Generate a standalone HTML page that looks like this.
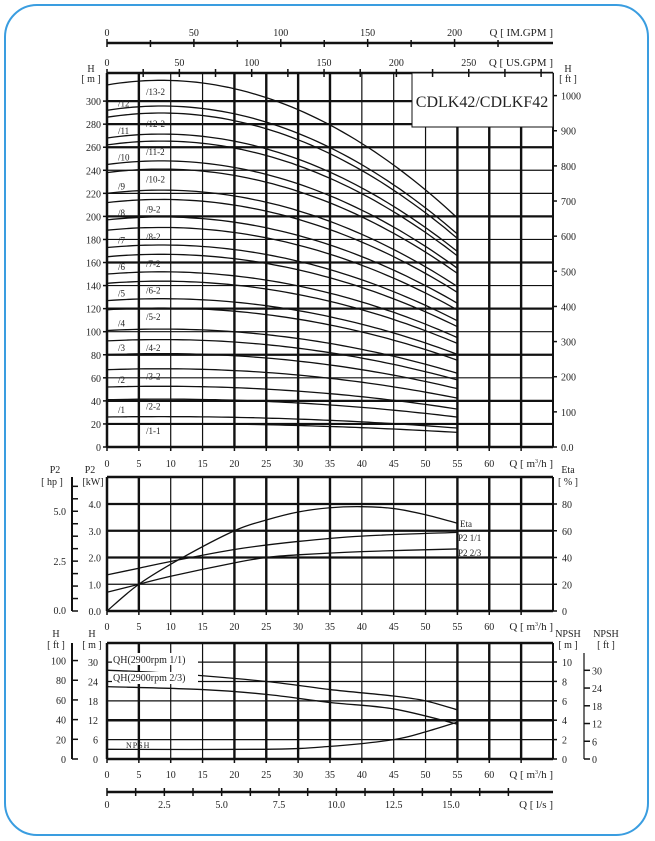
<!DOCTYPE html>
<html><head><meta charset="utf-8"><style>
html,body{margin:0;padding:0;background:#fff;}
svg{display:block;font-family:"Liberation Serif",serif;}
</style></head><body>
<svg id="s" width="655" height="841" xmlns="http://www.w3.org/2000/svg"></svg>
<script>
const s=document.getElementById('s');let h='';
const X=q=>107+q*6.371;
const L=(x1,y1,x2,y2,w)=>h+=`<line x1="${x1}" y1="${y1}" x2="${x2}" y2="${y2}" stroke="#111" stroke-width="${w}"/>`;
const T=(x,y,t,sz,a,extra)=>h+=`<text x="${x}" y="${y}" font-size="${sz||10}" text-anchor="${a||'middle'}" fill="#222" ${extra||''}>${t}</text>`;
const P=(pts,w)=>{let d='M'+pts.map(p=>p[0].toFixed(1)+','+p[1].toFixed(1)).join(' L');h+=`<path d="${d}" fill="none" stroke="#111" stroke-width="${w||1.3}"/>`;};
h+=`<rect x="5" y="5" width="643" height="830" rx="32" fill="#fff" stroke="#3a9de0" stroke-width="2"/>`;
const thick={5:1,20:1,25:1,30:1,35:1,55:1,60:1,65:1};
function vgrid(y1,y2){for(let q=5;q<=65;q+=5)L(X(q),y1,X(q),y2,thick[q]?2.4:1.2);L(553,y1,553,y2,2);}
// ===== TOP PANEL =====
const YH=m=>447-m*1.153;
vgrid(73,447);
for(let m=20;m<=300;m+=20){L(107,YH(m),553,YH(m),[300,280,260,200,160,120,80,40,20].includes(m)?2.2:1.2);}
L(107,73,553,73,2.5);L(107,447,553,447,2.5);L(107,73,107,447,2.5);
h+=`<rect x="412" y="73" width="141" height="54" fill="#fff" stroke="#111" stroke-width="1"/>`;
T(482,107,'CDLK42/CDLKF42',16);
const f=q=>1+0.003*q-0.000176*q*q;
const full=[26,52,80,101,127,150,173,197,220,245,268,292];
const half=[20,41,67,92,119,142,165,188,212,238,262,286,314];
function curve(H0,w){let p=[];for(let q=0;q<=55;q+=1)p.push([X(q),YH(H0*f(q))]);P(p,w);}
full.forEach((H0,i)=>{curve(H0,1.3);T(118,YH(H0)-4,'/'+(i+1),9,'start');});
half.forEach((H0,i)=>{curve(H0,1.3);T(146,YH(H0)+10,'/'+(i+1)+(i==0?'-1':'-2'),9,'start');});
T(91,72,'H',10);T(91,82,'[ m ]',10);
for(let m=0;m<=300;m+=20){T(101,YH(m)+4,m,10,'end');L(103,YH(m),107,YH(m),1.5);}
T(568,72,'H',10);T(568,82,'[ ft ]',10);
for(let ft=0;ft<=1000;ft+=100){const y=447-ft*0.3514;L(553,y,557,y,1.5);T(561,y+4,ft==0?'0.0':ft,10,'start');}
L(107,43,553,43,2.5);
for(let g=0;g<=240;g+=25){const x=X(g/3.666);L(x,g%50==0?39:40,x,47,1.5);if(g%50==0&&g<=200)T(x,36,g,10);}
for(let g=0;g<=300;g+=25){const x=X(g/4.403);if(x>553)break;L(x,69,x,77,1.5);if(g%50==0&&g<=250)T(x,66,g,10);}
T(553,36,'Q  [ IM.GPM ]',11,'end');T(553,66,'Q  [ US.GPM ]',11,'end');
function qlabels(y){for(let q=0;q<=60;q+=5)T(X(q),y,q,10);T(553,y,'Q  [ m<tspan font-size="6" dy="-4">3</tspan><tspan dy="4">/h ]</tspan>',11,'end');}
for(let q=0;q<=65;q+=5)L(X(q),447,X(q),451,1.5);
qlabels(467);
// ===== MIDDLE PANEL =====
const YK=k=>611-k*26.75;
vgrid(477,611);
for(let k=1;k<=4;k++)L(107,YK(k),553,YK(k),k==1?1.2:2.2);
L(107,477,553,477,2.5);L(107,611,553,611,2.5);L(107,477,107,611,2.5);
for(let k=0;k<=4;k++){T(101,YK(k)+4,k.toFixed(1),10,'end');}
T(90,473,'P2',10);T(93,485,'[kW]',10);
T(55,473,'P2',10);T(52,485,'[ hp ]',10);
L(72,477,72,611,2);
for(let i=0;i<=10;i++){const y=611-i*0.625*0.7457*26.75;if(y<477)break;L(72,y,78,y,1.5);}
T(66,614,'0.0',10,'end');T(66,565,'2.5',10,'end');T(66,515,'5.0',10,'end');
T(568,473,'Eta',10);T(568,485,'[ % ]',10);
for(let e=0;e<=80;e+=20){const y=YK(e/20);L(553,y,557,y,1.5);T(562,y+4,e,10,'start');}
function spl(arr,Y){let p=[];for(let i=0;i<arr.length;i++)p.push([X(arr[i][0]),Y(arr[i][1])]);return p;}
function smooth(arr,Y){
let pts=spl(arr,Y);let d='M'+pts[0][0]+','+pts[0][1];
for(let i=0;i<pts.length-1;i++){const p0=pts[i-1]||pts[i],p1=pts[i],p2=pts[i+1],p3=pts[i+2]||p2;
d+=` C${p1[0]+(p2[0]-p0[0])/6},${p1[1]+(p2[1]-p0[1])/6} ${p2[0]-(p3[0]-p1[0])/6},${p2[1]-(p3[1]-p1[1])/6} ${p2[0]},${p2[1]}`;}
h+=`<path d="${d}" fill="none" stroke="#111" stroke-width="1.3"/>`;}
smooth([[0,0],[5,1.0],[11.5,1.95],[20,3.0],[25,3.4],[30,3.7],[35,3.86],[40,3.9],[45,3.83],[50,3.6],[55,3.28]],YK);
smooth([[0,1.35],[5,1.6],[10,1.85],[20,2.3],[30,2.6],[40,2.8],[55,2.94]],YK);
smooth([[0,0.7],[5,1.0],[10,1.3],[20,1.8],[25,2.0],[30,2.1],[40,2.22],[55,2.32]],YK);
T(460,527,'Eta',9,'start');T(458,541,'P2  1/1',9,'start');T(458,556,'P2  2/3',9,'start');
for(let q=0;q<=65;q+=5)L(X(q),611,X(q),615,1.5);
qlabels(630);
// ===== BOTTOM PANEL =====
const YM=m=>759-m*3.23;
vgrid(643,759);
for(let m=6;m<=30;m+=6)L(107,YM(m),553,YM(m),m==12?2.4:1.2);
L(107,643,553,643,2.5);L(107,759,553,759,2.5);L(107,643,107,759,2.5);
T(92,637,'H',10);T(92,648,'[ m ]',10);T(56,637,'H',10);T(56,648,'[ ft ]',10);
for(let m=0;m<=30;m+=6)T(98,YM(m)+4,m,10,'end');
L(72,643,72,759,2);
for(let ft=0;ft<=100;ft+=20){const y=YM(ft*0.3048);L(72,y,78,y,1.5);T(66,y+4,ft,10,'end');}
T(568,637,'NPSH',10);T(568,648,'[ m ]',10);T(606,637,'NPSH',10);T(606,648,'[ ft ]',10);
for(let n=0;n<=10;n+=2){const y=759-n*9.7;L(553,y,557,y,1.5);T(562,y+4,n,10,'start');}
L(584,653,584,759,1.2);
for(let ft=0;ft<=30;ft+=6){const y=759-ft*0.3048*9.7;L(584,y,590,y,1.5);T(592,y+4,ft,10,'start');}
smooth([[0,27.5],[10,26.5],[25,24],[35,21.5],[45,19.5],[50,18],[55,15.2]],YM);
smooth([[0,22.4],[15,21.5],[25,20],[35,17.5],[45,15.5],[55,10.8]],YM);
const YN=n=>759-n*9.7;
smooth([[0,1.0],[25,1.0],[35,1.3],[45,2.0],[50,2.8],[55,3.8]],YN);
h+=`<rect x="112" y="653" width="86" height="12" fill="#fff"/><rect x="112" y="672" width="86" height="12" fill="#fff"/>`;
T(113,663,'QH(2900rpm 1/1)',10,'start');T(113,681,'QH(2900rpm 2/3)',10,'start');
T(126,748,'NPSH',8,'start','letter-spacing="1"');
for(let q=0;q<=65;q+=5)L(X(q),759,X(q),763,1.5);
qlabels(778);
L(107,792,553,792,2.5);
for(let i=0;i<=14;i++){const ls=i*1.25;const x=X(ls*3.6);if(x>553)break;L(x,788,x,796,1.5);if(i%2==0&&ls<=15)T(x,808,ls==0?'0':ls.toFixed(1),10);}
T(553,808,'Q  [ l/s ]',11,'end');
s.innerHTML=h;
</script>
</body></html>
